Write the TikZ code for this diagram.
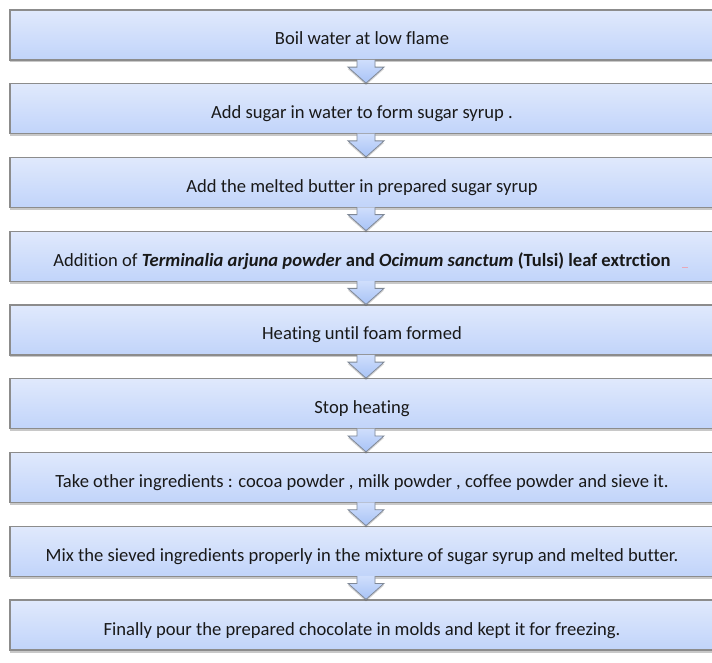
\documentclass[tikz,border=0pt]{standalone}
\usepackage{fontspec}
\setmainfont[Ligatures={NoCommon}]{Carlito}
\usetikzlibrary{calc,shadows}
\definecolor{boxtop}{HTML}{E0E9FC}
\definecolor{boxbot}{HTML}{C1D4FA}
\definecolor{boxline}{HTML}{8C8C8C}
\definecolor{arrtop}{HTML}{CFDEFC}
\definecolor{arrbot}{HTML}{A8C3F6}
\definecolor{arrline}{HTML}{7F8896}
\definecolor{spellmark}{HTML}{E8A8B8}
\newcommand\flowarr[2]{%
  \path[flowarrow] ($(#1.south)+(-5,0.7)$) -- ($(#2.north)+(-5,16)$) -- ($(#2.north)+(-14,16)$)
    -- ($(#2.north)+(4,0)$) -- ($(#2.north)+(22,16)$) -- ($(#2.north)+(13,16)$) -- ($(#1.south)+(13,0.7)$);}
\begin{document}
\begin{tikzpicture}[x=1pt,y=1pt,
  stepbox/.style={minimum width=704pt, minimum height=50pt, inner sep=0pt, draw=boxline,
    line width=1.2pt, top color=boxtop, bottom color=boxbot,
    text height=20pt, text depth=0pt,
    font=\fontsize{18.6}{22}\selectfont, text=black!90,
    drop shadow={opacity=0.3, shadow xshift=0pt, shadow yshift=-2.5pt, fill=black!70}},
  flowarrow/.style={draw=arrline, line width=0.8pt, line join=miter, top color=arrtop, bottom color=arrbot,
    drop shadow={opacity=0.25, shadow xshift=0pt, shadow yshift=-2pt, fill=black!70}}]
\useasboundingbox (0,0) rectangle (712,662);
\fill[white] (0,0) rectangle (712,662);
\node[stepbox] (s1) at (362,627.0) {Boil water at low flame};
\node[stepbox] (s2) at (362,553.25) {Add sugar in water to form sugar syrup .};
\node[stepbox] (s3) at (362,479.5) {Add the melted butter in prepared sugar syrup};
\node[stepbox] (s4) at (362,405.75) {Addition of \textbf{\textit{Terminalia arjuna powder}} \textbf{and} \textbf{\textit{Ocimum sanctum}} \textbf{(Tulsi) leaf extrction}};
\node[stepbox] (s5) at (362,332.0) {Heating until foam formed};
\node[stepbox] (s6) at (362,258.25) {Stop heating};
\node[stepbox] (s7) at (362,184.5) {Take other ingredients : cocoa powder , milk powder , coffee powder and sieve it.};
\node[stepbox] (s8) at (362,110.75) {Mix the sieved ingredients properly in the mixture of sugar syrup and melted butter.};
\node[stepbox] (s9) at (362,37.0) {Finally pour the prepared chocolate in molds and kept it for freezing.};
\flowarr{s1}{s2}
\flowarr{s2}{s3}
\flowarr{s3}{s4}
\flowarr{s4}{s5}
\flowarr{s5}{s6}
\flowarr{s6}{s7}
\flowarr{s7}{s8}
\flowarr{s8}{s9}
\draw[spellmark, line width=1pt] ($(s4.center)+(320,-11)$) -- ($(s4.center)+(326,-11)$);
\end{tikzpicture}
\end{document}
